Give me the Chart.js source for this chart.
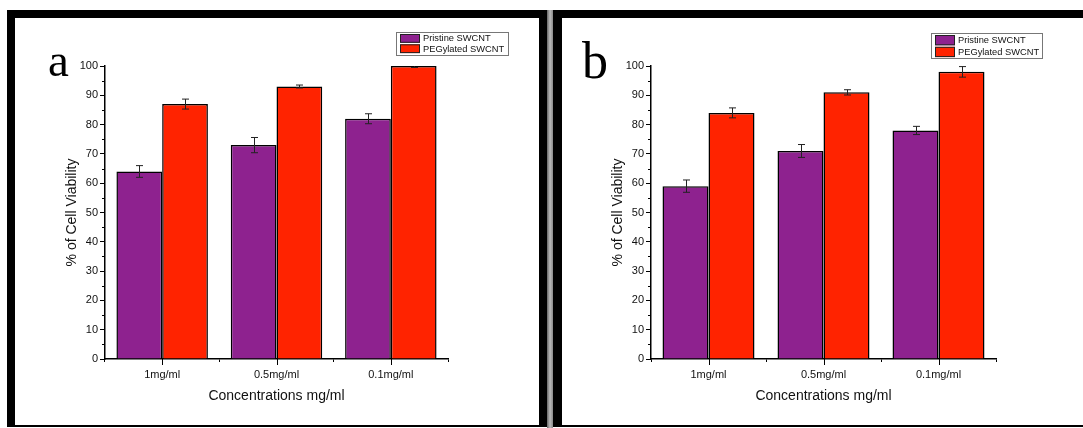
<!DOCTYPE html>
<html>
<head>
<meta charset="utf-8">
<script src="https://cdn.jsdelivr.net/npm/chart.js@4.4.1/dist/chart.umd.min.js"></script>
<style>
body { margin: 0; background: #fff; width: 1083px; height: 428px; overflow: hidden; position: relative; }
.frame { position: absolute; box-sizing: border-box; border-style: solid; border-color: #000; }
#frameA { left: 7px; top: 10px; width: 540px; height: 417px; border-width: 8px 8px 2px 8px; }
#frameB { left: 553px; top: 10px; width: 540px; height: 417px; border-width: 8px 8px 2px 9px; }
#gap { position: absolute; left: 547px; top: 10px; width: 6px; height: 418px;
       background: linear-gradient(to right, #666, #bbb, #888); }
canvas { position: absolute; }
#chartA { left: 15px; top: 18px; }
#chartB { left: 562px; top: 18px; }
</style>
</head>
<body>
<div class="frame" id="frameA"></div>
<div id="gap"></div>
<div class="frame" id="frameB"></div>
<canvas id="chartA" width="524" height="407"></canvas>
<canvas id="chartB" width="521" height="407"></canvas>
<script>
// categories and series
const categories = ['1mg/ml', '0.5mg/ml', '0.1mg/ml'];
const seriesNames = ['Pristine SWCNT', 'PEGylated SWCNT'];

// panel a
const pristineA = [64, 73, 82];
const pristineErrA = [2.0, 2.6, 1.7];
const pegA = [87, 93, 100];
const pegErrA = [1.7, 0.5, 0.5];

// panel b
const pristineB = [59, 71, 78];
const pristineErrB = [2.1, 2.2, 1.4];
const pegB = [84, 91, 98];
const pegErrB = [1.7, 0.9, 1.8];

// y axis
const yMin = 0;
const yMax = 100;
const yStep = 10;
const yMinorStep = 5;

const purple = '#8E228F';
const red = '#FF2300';

Chart.defaults.font.family = '"Liberation Sans", Arial, sans-serif';
Chart.defaults.color = '#111';

// error bars, minor ticks, legend box and panel letter
const overlay = {
    id: 'overlay',
    afterDatasetsDraw(chart, args, opts) {
        const ctx = chart.ctx;
        const ys = chart.scales.y;
        const area = chart.chartArea;

        ctx.save();
        ctx.beginPath();
        ctx.rect(area.left, area.top, area.right - area.left, area.bottom - area.top);
        ctx.clip();
        ctx.strokeStyle = '#222';
        ctx.lineWidth = 1;
        chart.data.datasets.forEach((ds, i) => {
            const meta = chart.getDatasetMeta(i);
            meta.data.forEach((bar, j) => {
                const v = ds.data[j];
                const e = ds.errors[j];
                const yHi = ys.getPixelForValue(v + e);
                const yLo = ys.getPixelForValue(v - e);
                const x = Math.round(bar.x) + 0.5;
                ctx.beginPath();
                ctx.moveTo(x, yHi); ctx.lineTo(x, yLo);
                ctx.moveTo(x - 3.5, yHi); ctx.lineTo(x + 3.5, yHi);
                ctx.moveTo(x - 3.5, yLo); ctx.lineTo(x + 3.5, yLo);
                ctx.stroke();
            });
        });
        ctx.restore();
    },
    afterDraw(chart, args, opts) {
        const ctx = chart.ctx;
        const xs = chart.scales.x;
        const ys = chart.scales.y;
        const area = chart.chartArea;
        ctx.save();
        ctx.strokeStyle = '#000';
        ctx.lineWidth = 1;
        // minor y ticks
        for (let v = yMin + yMinorStep; v < yMax; v += yStep) {
            const y = Math.round(ys.getPixelForValue(v)) + 0.5;
            ctx.beginPath();
            ctx.moveTo(area.left - 3, y); ctx.lineTo(area.left, y);
            ctx.stroke();
        }
        // major x ticks at category centres
        categories.forEach((c, j) => {
            const x = Math.round(xs.getPixelForValue(j)) + 0.5;
            ctx.beginPath();
            ctx.moveTo(x, area.bottom); ctx.lineTo(x, area.bottom + 6);
            ctx.stroke();
        });

        // legend
        const lg = opts.legend;
        ctx.strokeStyle = '#777';
        ctx.strokeRect(lg.x + 0.5, lg.y + 0.5, lg.w, lg.h);
        ctx.font = '9.3px "Liberation Sans", Arial, sans-serif';
        ctx.textBaseline = 'middle';
        chart.data.datasets.forEach((ds, i) => {
            const sy = lg.y + 2 + i * lg.row;
            ctx.fillStyle = ds.backgroundColor;
            ctx.fillRect(lg.x + 4, sy, 20, lg.row - 1.5);
            ctx.strokeStyle = '#222';
            ctx.strokeRect(lg.x + 4.5, sy + 0.5, 19, lg.row - 2.5);
            ctx.fillStyle = '#111';
            ctx.fillText(ds.label, lg.x + 27, sy + (lg.row - 1.5) / 2 + 0.5);
        });

        // panel letter
        ctx.font = opts.letterSize + 'px "Liberation Serif", "Times New Roman", serif';
        ctx.textBaseline = 'alphabetic';
        ctx.fillStyle = '#000';
        ctx.fillText(opts.letter, opts.letterX, opts.letterY);
        ctx.restore();
    }
};

function makeChart(id, pristine, pristineErr, peg, pegErr, panel) {
    const ctx = document.getElementById(id).getContext('2d');
    return new Chart(ctx, {
        type: 'bar',
        data: {
            labels: categories,
            datasets: [{
                label: seriesNames[0],
                data: pristine,
                errors: pristineErr,
                backgroundColor: purple,
                borderColor: '#000',
                borderWidth: 1.5,
                categoryPercentage: 0.8,
                barPercentage: 1.0
            }, {
                label: seriesNames[1],
                data: peg,
                errors: pegErr,
                backgroundColor: red,
                borderColor: '#000',
                borderWidth: 1.5,
                categoryPercentage: 0.8,
                barPercentage: 1.0
            }]
        },
        options: {
            responsive: false,
            animation: false,
            devicePixelRatio: 1,
            layout: {
                padding: { left: 0, top: 48, right: panel.right, bottom: 0 }
            },
            plugins: {
                legend: { display: false },
                tooltip: { enabled: false },
                overlay: {
                    letter: panel.letter,
                    letterX: panel.letterX,
                    letterY: panel.letterY,
                    letterSize: panel.letterSize,
                    legend: panel.legend
                }
            },
            scales: {
                x: {
                    afterFit(scale) { scale.height = 66; },
                    grid: {
                        offset: true,
                        drawOnChartArea: false,
                        color: '#000',
                        tickLength: 3
                    },
                    border: { color: '#000', width: 1.5 },
                    ticks: { font: { size: 11 }, padding: 6, maxRotation: 0 },
                    title: {
                        display: true,
                        text: 'Concentrations mg/ml',
                        font: { size: 14 },
                        padding: { top: 0, bottom: 20 }
                    }
                },
                y: {
                    min: yMin,
                    max: yMax,
                    afterFit(scale) { scale.width = panel.yWidth; },
                    grid: {
                        drawOnChartArea: false,
                        color: '#000',
                        tickLength: 5
                    },
                    border: { color: '#000', width: 1.5 },
                    ticks: { stepSize: yStep, font: { size: 11 }, padding: 2 },
                    title: {
                        display: true,
                        text: '% of Cell Viability',
                        font: { size: 14 },
                        padding: { top: panel.titlePad, bottom: 0 }
                    }
                }
            }
        },
        plugins: [overlay]
    });
}

makeChart('chartA', pristineA, pristineErrA, pegA, pegErrA, {
    right: 91, yWidth: 90, titlePad: 48.5,
    letter: 'a', letterX: 33, letterY: 58, letterSize: 47,
    legend: { x: 381, y: 14, w: 112, h: 23, row: 10.3 }
});
makeChart('chartB', pristineB, pristineErrB, pegB, pegErrB, {
    right: 87, yWidth: 89, titlePad: 47.5,
    letter: 'b', letterX: 20, letterY: 60, letterSize: 52,
    legend: { x: 369, y: 15, w: 111, h: 25, row: 11.8 }
});
</script>
</body>
</html>
